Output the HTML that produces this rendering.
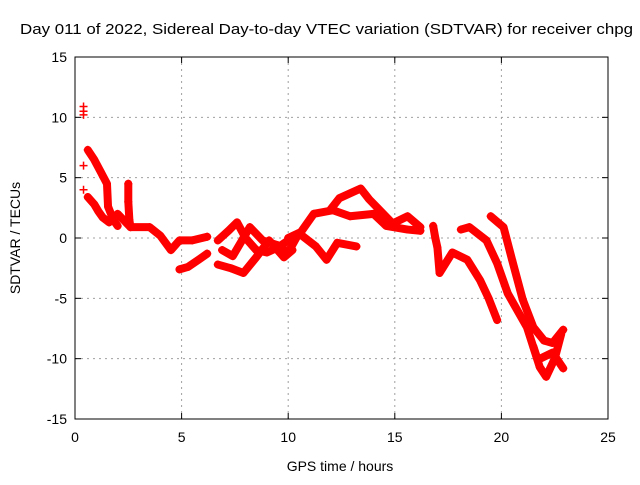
<!DOCTYPE html>
<html><head><meta charset="utf-8"><style>
body{margin:0;background:#fff;}
svg{font-family:"Liberation Sans",sans-serif;}
</style></head><body>
<svg id="chart" width="640" height="480" viewBox="0 0 640 480">
<text x="20" y="34" font-size="15" textLength="613" lengthAdjust="spacingAndGlyphs">Day 011 of 2022, Sidereal Day-to-day VTEC variation (SDTVAR) for receiver chpg</text>
<g id="grid"></g>
<g id="series"></g>
<g id="axes"></g>
<text x="340" y="471" text-anchor="middle" font-size="14">GPS time / hours</text>
<text transform="translate(20,238) rotate(-90)" text-anchor="middle" font-size="14">SDTVAR / TECUs</text>
</svg>
<script>
const xTicks=[0,5,10,15,20,25];
const yTicks=[-15,-10,-5,0,5,10,15];
const trackIsolated=[[0.4,10.9],[0.4,10.5],[0.4,10.2],[0.4,6],[0.4,4]];
const trackA=[[0.6,7.3],[0.9,6.5],[1.2,5.5],[1.5,4.5],[1.55,2.6],[1.8,1.5],[2,1]];
const trackB=[[0.6,3.4],[0.9,2.8],[1.1,2.2],[1.3,1.7],[1.6,1.3]];
const trackSpike=[[2.5,4.5],[2.5,3],[2.55,1.5],[2.6,0.9]];
const trackC=[[2,2],[2.6,0.9],[3.5,0.9],[4,0.2],[4.5,-1],[4.9,-0.2],[5.5,-0.2],[6.2,0.1]];
const trackLow1=[[4.9,-2.6],[5.3,-2.4],[5.8,-1.8],[6.2,-1.3]];
const trackD1=[[6.7,-0.2],[7.2,0.6],[7.6,1.3],[8,0],[8.5,-1],[9,-1.2],[9.5,-0.8],[10,-0.2]];
const trackD2=[[6.7,-2.2],[7.3,-2.5],[7.9,-2.9],[8.5,-1.6],[9.1,-0.2],[9.8,-1.6],[10.2,-1]];
const trackD3=[[6.9,-1],[7.4,-1.5],[8.2,0.9],[8.8,-0.2],[9.5,-0.6],[10,-1.2],[10.5,0.4]];
const trackE1=[[10,0],[10.6,0.5],[11.2,2],[12.1,2.3],[12.9,1.8],[14,2],[14.6,1],[15.6,0.7],[16.2,0.6]];
const trackE2=[[12,2.4],[12.4,3.3],[13.4,4.1],[13.8,3.2],[14.9,1.2],[15.6,1.8],[16.2,0.9]];
const trackE3=[[10.5,0.4],[11.3,-0.7],[11.8,-1.8],[12.3,-0.4],[13.2,-0.7]];
const trackF1=[[16.8,1],[16.9,0],[17,-0.8],[17.1,-2.9],[17.7,-1.2],[18.4,-1.8],[19,-3.5],[19.4,-5],[19.8,-6.8]];
const trackF2=[[18.1,0.7],[18.5,0.9],[19.3,-0.2],[19.8,-2.1],[20.3,-4.6],[21.2,-7.4],[21.8,-10.7],[22.1,-11.5],[22.5,-10],[22.8,-8]];
const trackF3=[[19.5,1.8],[20.1,0.9],[20.5,-1.8],[21,-5.1],[21.5,-7.4],[22,-8.5],[22.4,-8.7],[22.9,-7.6]];
const trackF4=[[21.5,-9],[21.7,-10.1],[22.4,-9.5],[22.9,-10.8]];
const tracks=[trackIsolated,trackA,trackB,trackSpike,trackC,trackLow1,trackD1,trackD2,trackD3,trackE1,trackE2,trackE3,trackF1,trackF2,trackF3,trackF4];

const X0=75,X1=608,Y0=419,Y1=57;
const xs=v=>X0+(v-0)/25*(X1-X0);
const ys=v=>Y0-(v+15)/30*(Y0-Y1);
const NS='http://www.w3.org/2000/svg';
function mk(tag,attrs,parent){const e=document.createElementNS(NS,tag);for(const k in attrs)e.setAttribute(k,attrs[k]);parent.appendChild(e);return e;}
const grid=document.getElementById('grid'),axes=document.getElementById('axes'),series=document.getElementById('series');
xTicks.forEach(t=>{
 const x=xs(t);
 if(t>0&&t<25){const g=mk('line',{x1:x,x2:x,y1:Y1,y2:Y0,stroke:'#a0a0a0','stroke-dasharray':'2,4'},grid);
 
 }
 mk('line',{x1:x,x2:x,y1:Y0,y2:Y0-6,stroke:'#000'},axes);
 mk('line',{x1:x,x2:x,y1:Y1,y2:Y1+6,stroke:'#000'},axes);
 const l=mk('text',{x:x,y:Y0+23,'text-anchor':'middle','font-size':'14'},axes);l.textContent=t;
 
 
});
yTicks.forEach(t=>{
 const y=ys(t);
 if(t>-15&&t<15){const g=mk('line',{x1:X0,x2:X1,y1:y,y2:y,stroke:'#a0a0a0','stroke-dasharray':'2,4'},grid);
 
 }
 mk('line',{x1:X0,x2:X0+6,y1:y,y2:y,stroke:'#000'},axes);
 mk('line',{x1:X1,x2:X1-6,y1:y,y2:y,stroke:'#000'},axes);
 const l=mk('text',{x:X0-8,y:y+5,'text-anchor':'end','font-size':'14'},axes);l.textContent=t;
 
 
});
const frame=mk('rect',{x:X0,y:Y1,width:X1-X0,height:Y0-Y1,fill:'none',stroke:'#000'},axes);


tracks.forEach((tr,i)=>{
 const g=mk('g',{},series);
 
 
 if(i>0){const pl=mk('polyline',{points:tr.map(p=>xs(p[0])+','+ys(p[1])).join(' '),fill:'none',stroke:'#f00','stroke-width':'8','stroke-linejoin':'round','stroke-linecap':'round'},g);
 
 }
 tr.forEach(p=>{
  const x=xs(p[0]),y=ys(p[1]);
  const m=mk('path',{d:`M${x-4},${y}H${x+4}M${x},${y-4}V${y+4}`,stroke:'#f00','stroke-width':'1.5'},g);
  
  
 });
});
</script>
</body></html>
